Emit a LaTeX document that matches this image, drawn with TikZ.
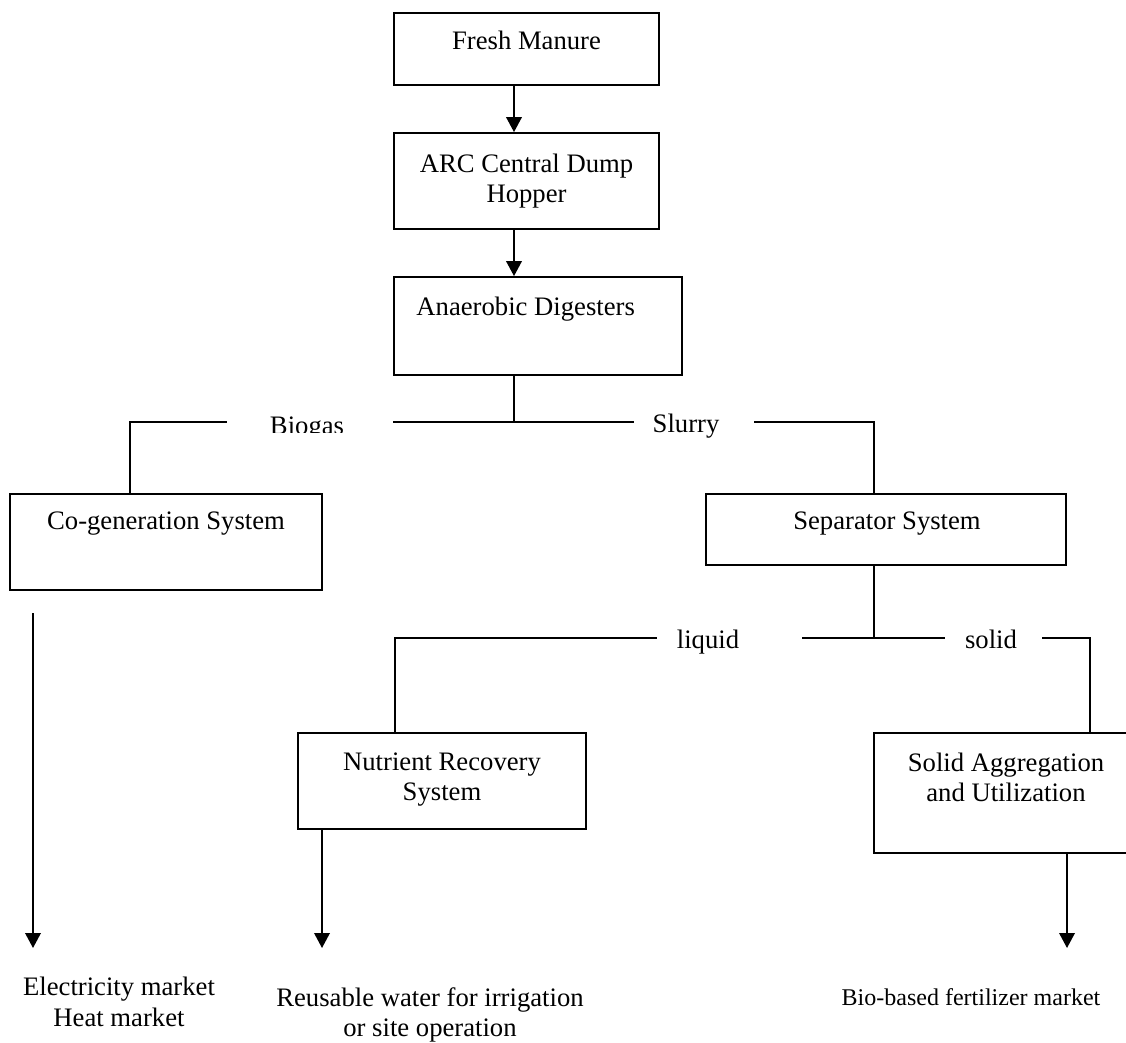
\documentclass[tikz,border=0pt]{standalone}
\usepackage{fontspec}
\setmainfont{Liberation Serif}
\usetikzlibrary{arrows.meta}
\usetikzlibrary{positioning}

\newcommand{\px}{0.45pt}

\tikzset{
box/.style={draw, line width=0.8pt, rectangle, inner sep=0pt},
boxtext/.style={anchor=north, inner sep=0pt, align=center, font=\fontsize{12}{13.5}\selectfont},
flowlabel/.style={anchor=base, inner sep=0pt, font=\fontsize{12}{13.5}\selectfont},
market/.style={anchor=north, inner sep=0pt, align=center, font=\fontsize{12}{13.8}\selectfont},
link/.style={line width=0.8pt},
flow/.style={line width=0.8pt, -{Triangle[length=6.75pt,width=7pt]}}
}

\begin{document}
\begin{tikzpicture}[x=\px, y=-\px]
\clip (0,0) rectangle (1126,1043);
\node[box, minimum width=265*\px, minimum height=72*\px] (fresh) at (526.5,49) {};
\node[box, minimum width=265*\px, minimum height=96*\px] (hopper) at (526.5,181) {};
\node[box, minimum width=288*\px, minimum height=98*\px] (digest) at (538,326) {};
\node[box, minimum width=312*\px, minimum height=96*\px] (cogen) at (166,542) {};
\node[box, minimum width=360*\px, minimum height=71*\px] (sep) at (886,529.5) {};
\node[box, minimum width=288*\px, minimum height=96*\px] (nutri) at (442,781) {};
\node[box, minimum width=264*\px, minimum height=120*\px] (solid) at (1006,793) {};

\node[boxtext] (freshtext) at (526.5,31) {Fresh Manure};
\node[boxtext] (hoppertext) at (526.5,154) {ARC Central Dump\\Hopper};
\node[boxtext, anchor=north west] (digesttext) at (416,297) {Anaerobic Digesters};
\node[boxtext] (cogentext) at (166,511) {Co-generation System};
\node[boxtext] (septext) at (887,511) {Separator System};
\node[boxtext] (nutritext) at (442,752) {Nutrient Recovery\\System};
\node[boxtext] (solidtext) at (1006,753) {Solid Aggregation\\and Utilization};

\begin{scope}
\clip (250,400) rectangle (370,432.5);
\node[flowlabel] (biogas) at (307,434) {Biogas};
\end{scope}
\node[flowlabel] (slurry) at (686,432) {Slurry};
\node[flowlabel] (liquid) at (708,648) {liquid};
\node[flowlabel] (solidlbl) at (991,648) {solid};

\node[market] (elec) at (119,977) {Electricity market\\Heat market};
\node[market] (water) at (430,987) {Reusable water for irrigation\\or site operation};
\node[market, font=\fontsize{10.8}{13}\selectfont] (fert) at (971,988) {Bio-based fertilizer market};

\coordinate (spine) at (514,422);
\coordinate (gasdrop) at (130,422);
\coordinate (sepdrop) at (874,422);
\coordinate (bioL) at (227,422);
\coordinate (bioR) at (393,422);
\coordinate (slurL) at (634,422);
\coordinate (slurR) at (754,422);
\coordinate (liqdrop) at (395,638);
\coordinate (soldrop) at (1090,638);
\coordinate (liqL) at (657,638);
\coordinate (liqR) at (802,638);
\coordinate (solL) at (945,638);
\coordinate (solR) at (1042,638);
\coordinate (elecstart) at (33,613);
\coordinate (electip) at (33,948);
\coordinate (watertip) at (322,948);
\coordinate (fertip) at (1067,948);

\draw[flow] (fresh.south -| spine) -- (hopper.north -| spine);
\draw[flow] (hopper.south -| spine) -- (digest.north -| spine);
\draw[link] (digest.south -| spine) -- (spine);
\draw[link] (cogen.north -| gasdrop) -- (gasdrop) -- (bioL);
\draw[link] (bioR) -- (slurL);
\draw[link] (slurR) -- (sepdrop) -- (sep.north -| sepdrop);
\draw[link] (sep.south -| sepdrop) -- (sepdrop |- liqR);
\draw[link] (nutri.north -| liqdrop) -- (liqdrop) -- (liqL);
\draw[link] (liqR) -- (solL);
\draw[link] (solR) -- (soldrop) -- (solid.north -| soldrop);
\draw[flow] (elecstart) -- (electip);
\draw[flow] (nutri.south -| watertip) -- (watertip);
\draw[flow] (solid.south -| fertip) -- (fertip);
\end{tikzpicture}
\end{document}
